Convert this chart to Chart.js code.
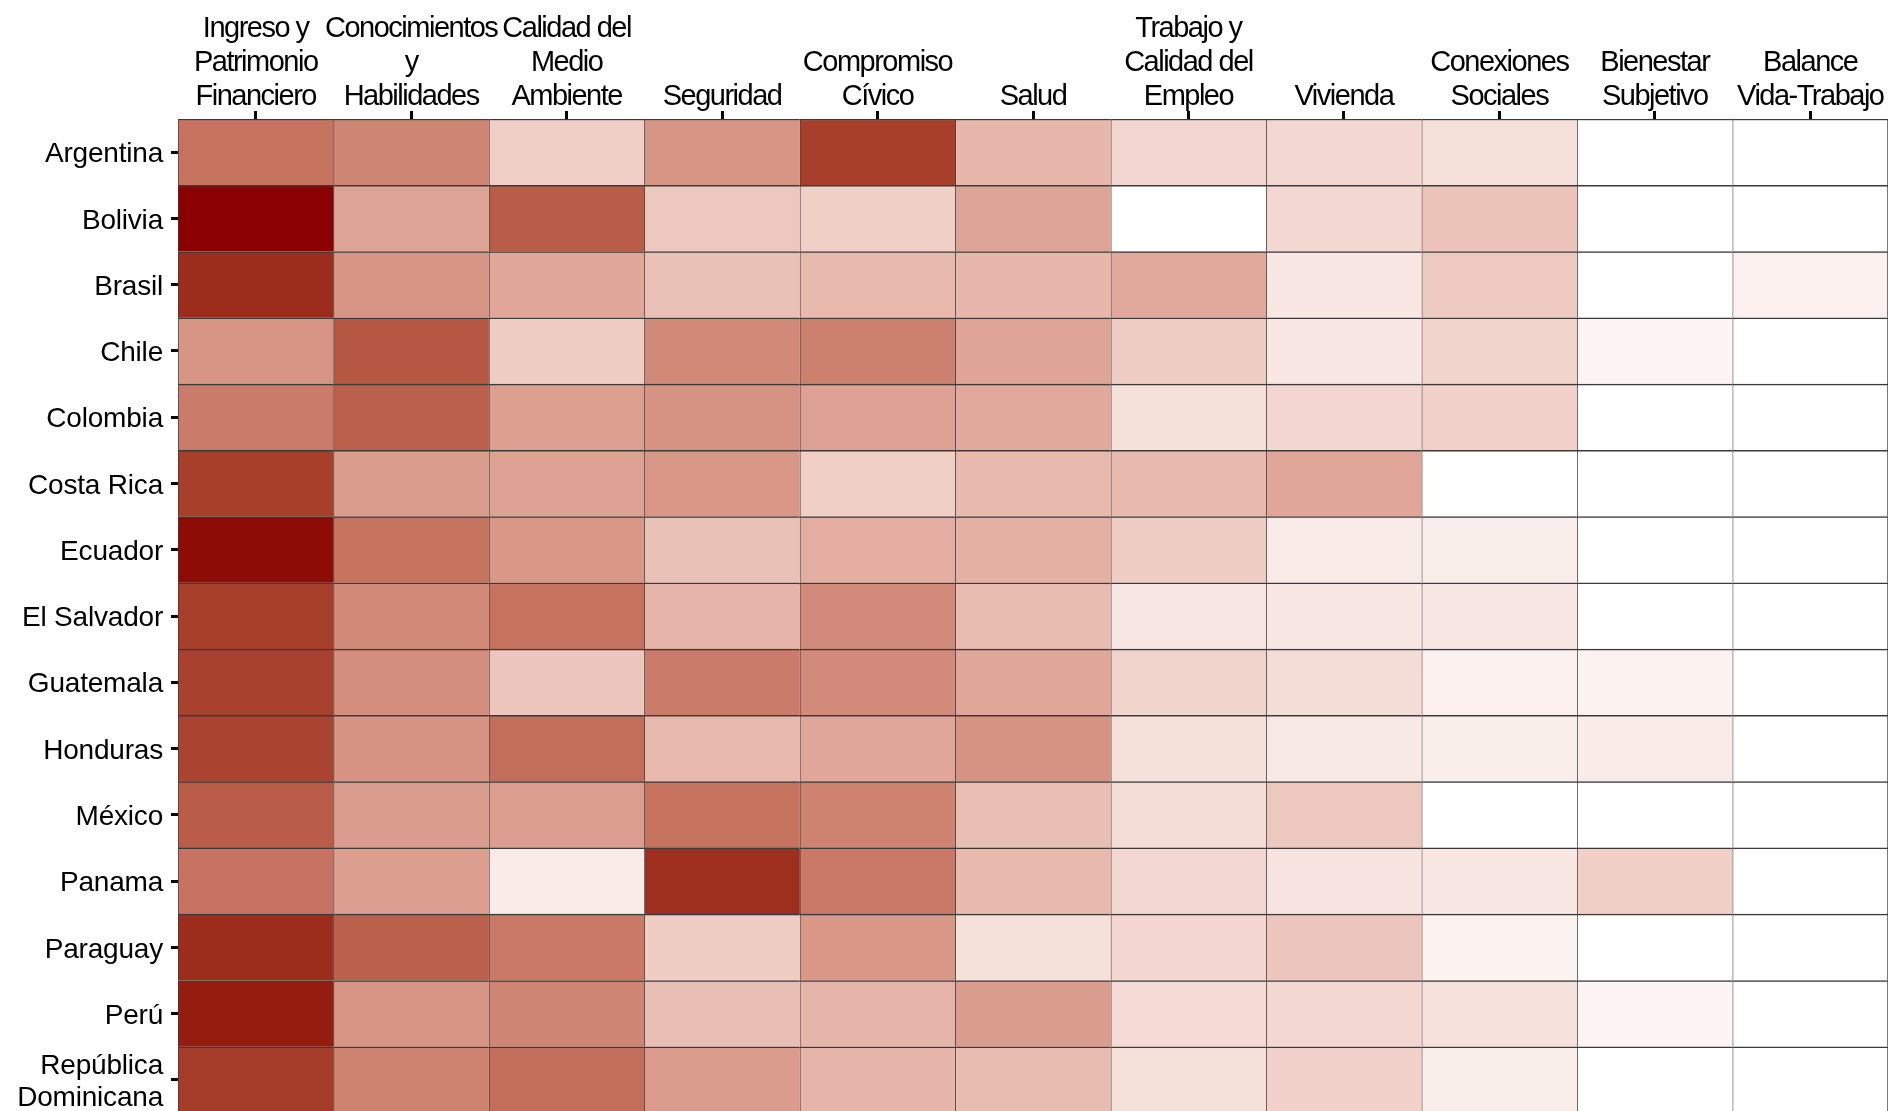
<!DOCTYPE html>
<html><head><meta charset="utf-8">
<script src="https://cdn.jsdelivr.net/npm/chart.js@4.4.1/dist/chart.umd.min.js"></script>
<style>html,body{margin:0;padding:0;background:#fff;overflow:hidden;width:1891px;height:1111px}canvas{display:block}</style>
</head><body>
<canvas id="c" width="1891" height="1160"></canvas>
<script>
// Categories (rows)
const countries = ["Argentina","Bolivia","Brasil","Chile","Colombia","Costa Rica","Ecuador","El Salvador","Guatemala","Honduras","México","Panama","Paraguay","Perú",["República","Dominicana"]];
// Column labels (tick labels on top)
const indicatorLabels = [
  ["Ingreso y","Patrimonio","Financiero"],
  ["Conocimientos","y","Habilidades"],
  ["Calidad del","Medio","Ambiente"],
  ["Seguridad"],
  ["Compromiso","Cívico"],
  ["Salud"],
  ["Trabajo y","Calidad del","Empleo"],
  ["Vivienda"],
  ["Conexiones","Sociales"],
  ["Bienestar","Subjetivo"],
  ["Balance","Vida-Trabajo"]
];
// Series values (0 = white, 1 = dark red), one array per indicator, in country order
const ingreso       = [0.60,1.00,0.89,0.45,0.56,0.82,0.98,0.82,0.81,0.80,0.69,0.59,0.89,0.94,0.83];
const conocimientos = [0.52,0.38,0.45,0.72,0.68,0.42,0.60,0.50,0.48,0.46,0.42,0.41,0.68,0.45,0.53];
const medioAmbiente = [0.20,0.69,0.37,0.21,0.40,0.39,0.44,0.60,0.24,0.62,0.41,0.08,0.57,0.52,0.62];
const seguridad     = [0.45,0.23,0.26,0.50,0.46,0.44,0.26,0.31,0.56,0.29,0.60,0.88,0.21,0.27,0.42];
const civico        = [0.82,0.20,0.29,0.54,0.39,0.20,0.34,0.49,0.49,0.37,0.53,0.57,0.44,0.31,0.31];
const salud         = [0.30,0.38,0.30,0.38,0.36,0.29,0.33,0.28,0.37,0.46,0.27,0.29,0.13,0.42,0.28];
const trabajo       = [0.17,0.00,0.36,0.21,0.13,0.29,0.21,0.10,0.18,0.13,0.14,0.16,0.17,0.15,0.13];
const vivienda      = [0.16,0.16,0.10,0.10,0.17,0.37,0.08,0.10,0.14,0.09,0.23,0.11,0.24,0.16,0.19];
const conexiones    = [0.13,0.25,0.22,0.18,0.19,0.00,0.07,0.10,0.06,0.07,0.00,0.10,0.05,0.12,0.07];
const bienestar     = [0.00,0.00,0.00,0.04,0.00,0.00,0.00,0.00,0.05,0.08,0.00,0.20,0.00,0.04,0.00];
const balance       = [0.00,0.00,0.06,0.00,0.00,0.00,0.00,0.00,0.00,0.00,0.00,0.00,0.00,0.00,0.00];

const columns = [ingreso,conocimientos,medioAmbiente,seguridad,civico,salud,trabajo,vivienda,conexiones,bienestar,balance];

// Lab interpolation white -> darkred
function toLin(c){c/=255;return c<=0.04045?c/12.92:Math.pow((c+0.055)/1.055,2.4);}
function toSrgb(c){c=c<=0.0031308?12.92*c:1.055*Math.pow(c,1/2.4)-0.055;return Math.round(Math.max(0,Math.min(1,c))*255);}
function hexToLab(h){
  const r=toLin(parseInt(h.slice(1,3),16)),g=toLin(parseInt(h.slice(3,5),16)),b=toLin(parseInt(h.slice(5,7),16));
  const X=(0.4124564*r+0.3575761*g+0.1804375*b)/0.95047,Y=0.2126729*r+0.7151522*g+0.0721750*b,Z=(0.0193339*r+0.1191920*g+0.9503041*b)/1.08883;
  const f=t=>t>0.008856?Math.cbrt(t):7.787*t+16/116;
  const fx=f(X),fy=f(Y),fz=f(Z);
  return [116*fy-16,500*(fx-fy),200*(fy-fz)];
}
function labToRgb(L,a,b){
  const fy=(L+16)/116,fx=fy+a/500,fz=fy-b/200;
  const fi=f=>{const f3=f*f*f;return f3>0.008856?f3:(f-16/116)/7.787;};
  const X=fi(fx)*0.95047,Y=fi(fy),Z=fi(fz)*1.08883;
  const r=3.2404542*X-1.5371385*Y-0.4985314*Z,g=-0.9692660*X+1.8760108*Y+0.0415560*Z,bb=0.0556434*X-0.2040259*Y+1.0572252*Z;
  return `rgb(${toSrgb(r)},${toSrgb(g)},${toSrgb(bb)})`;
}
const LOW=hexToLab('#FFFFFF'),HIGH=hexToLab('#8B0000');
function colorFor(t){return labToRgb(LOW[0]+(HIGH[0]-LOW[0])*t,LOW[1]+(HIGH[1]-LOW[1])*t,LOW[2]+(HIGH[2]-LOW[2])*t);}

const FONT="'Liberation Sans',Arial,sans-serif";

// condense label text of a scale with canvas letter spacing, with a small vertical nudge
function condense(s,spacing,dy){
  if(s._condensed) return;
  s._condensed=true;
  const orig=s.drawLabels;
  s.drawLabels=function(area){
    const ctx=this.ctx;ctx.save();
    try{ctx.letterSpacing=spacing;}catch(e){}
    ctx.translate(0,dy);
    orig.call(this,area);
    ctx.restore();
  };
}

const datasets = columns.map((vals,ci)=>({
  label:indicatorLabels[ci].join(' '),
  data: vals.map(()=>[ci,ci+1]),
  backgroundColor: vals.map(colorFor),
  borderColor:'#3a3a3a',
  borderWidth:{top:1.5,left:1,right:ci===columns.length-1?1:0,bottom:0},
  borderSkipped:false,
  grouped:false,
  barPercentage:1,
  categoryPercentage:1
}));

const gridX={display:true,drawOnChartArea:false,drawTicks:true,tickLength:8,tickWidth:3,tickColor:'#000',offset:false};
const gridY={display:true,drawOnChartArea:false,drawTicks:true,tickLength:7,tickWidth:3,tickColor:'#000',offset:false};

new Chart(document.getElementById('c'),{
  type:'bar',
  data:{labels:countries,datasets},
  options:{
    indexAxis:'y',
    responsive:false,
    animation:false,
    layout:{padding:{left:0,top:0,right:3,bottom:47}},
    plugins:{legend:{display:false},tooltip:{enabled:false}},
    scales:{
      x:{
        type:'linear',position:'top',min:0,max:11,
        afterBuildTicks:s=>{s.ticks=indicatorLabels.map((_,i)=>({value:i+0.5}));},
        afterFit:s=>{s.height=119;s.paddingLeft=0;s.paddingRight=0;condense(s,'-1.5px',3);},
        ticks:{autoSkip:false,maxRotation:0,minRotation:0,padding:0,color:'#000',
          font:{family:FONT,size:29,lineHeight:1.17},
          callback:(v,i)=>indicatorLabels[i]},
        grid:gridX,
        border:{display:false}
      },
      y:{
        type:'category',
        afterFit:s=>{s.width=178;s.paddingTop=0;s.paddingBottom=0;condense(s,'-0.2px',2.5);},
        ticks:{autoSkip:false,padding:8,color:'#000',font:{family:FONT,size:28,lineHeight:1.15}},
        grid:gridY,
        border:{display:false}
      }
    }
  }
});
</script>
</body></html>
